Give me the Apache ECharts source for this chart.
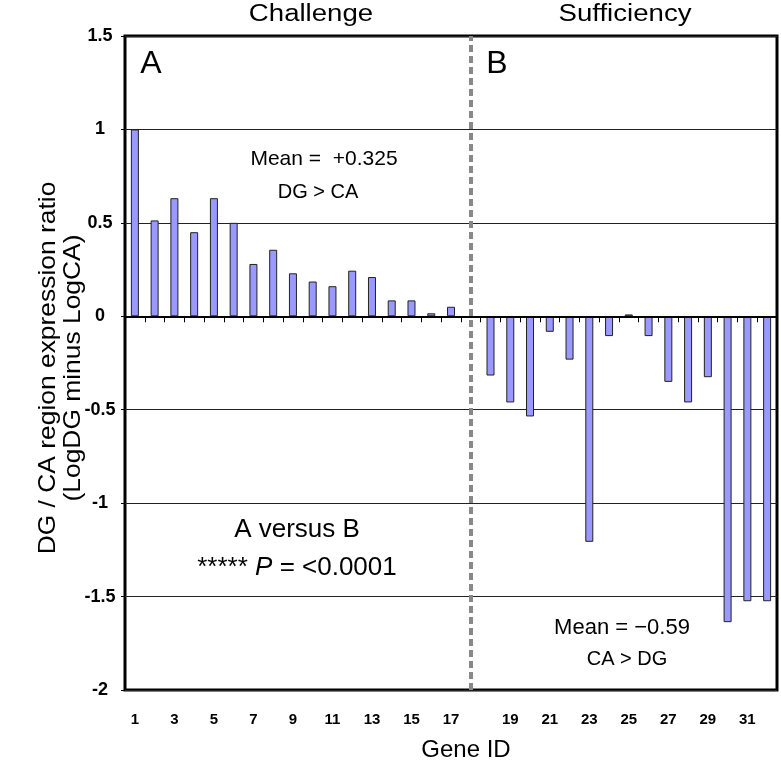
<!DOCTYPE html>
<html>
<head>
<meta charset="utf-8">
<script src="https://cdn.jsdelivr.net/npm/echarts@6/dist/echarts.min.js"></script>
<style>
html,body{margin:0;padding:0;background:#fff;}
#chart{width:781px;height:764px;}
</style>
</head>
<body>
<div id="chart"></div>
<script>
// Gene categories (slot 18 is an empty separator between panels A and B)
const challengeGenes = ['1','2','3','4','5','6','7','8','9','10','11','12','13','14','15','16','17'];
const sufficiencyGenes = ['18','19','20','21','22','23','24','25','26','27','28','29','30','31','32'];
const separator = [''];

// Values (LogDG minus LogCA)
const challengeValues = [1.0, 0.513, 0.632, 0.45, 0.632, 0.5, 0.28, 0.356, 0.23, 0.186, 0.161, 0.244, 0.21, 0.085, 0.085, 0.016, 0.051];
const sufficiencyValues = [-0.317, -0.461, -0.536, -0.083, -0.232, -1.207, -0.106, 0.01, -0.106, -0.351, -0.461, -0.326, -1.637, -1.525, -1.525];

// Y axis range / ticks
const yMin = -2, yMax = 1.5, yStep = 0.5;

const categories = challengeGenes.concat(separator, sufficiencyGenes);
const values = challengeValues.concat([null], sufficiencyValues);

const chart = echarts.init(document.getElementById('chart'), null, {renderer: 'canvas'});

const FONT = 'Liberation Sans, Arial, sans-serif';

function label(x, y, text, size, extra) {
  const el = {type: 'text', x: x, y: y, style: {text: text, font: size + 'px ' + FONT, fill: '#000', textAlign: 'center', textVerticalAlign: 'middle'}};
  return Object.assign(el, extra || {});
}

const option = {
  animation: false,
  backgroundColor: '#fff',
  grid: {
    left: 125, top: 36, width: 652, height: 654,
    show: true, borderColor: '#000', borderWidth: 3, backgroundColor: 'transparent', containLabel: false
  },
  xAxis: [
    {
      type: 'category', data: categories, boundaryGap: true,
      axisLine: {onZero: true, lineStyle: {color: '#000', width: 2}},
      axisTick: {show: true, interval: 0, length: 6, lineStyle: {color: '#000', width: 1}},
      axisLabel: {show: false},
      splitLine: {show: false}, z: 5
    },
    {
      type: 'category', data: categories, position: 'bottom', boundaryGap: true,
      axisLine: {show: false, onZero: false},
      axisTick: {show: false},
      axisLabel: {
        show: true, interval: 0, margin: 22,
        fontFamily: FONT, fontWeight: 'bold', fontSize: 15, color: '#000',
        formatter: function (v) { const n = parseInt(v, 10); return (!isNaN(n) && n % 2 === 1) ? v : ''; }
      },
      splitLine: {show: false}
    }
  ],
  yAxis: {
    type: 'value', min: yMin, max: yMax, interval: yStep,
    axisLine: {show: false},
    axisTick: {show: true, length: 4, lineStyle: {color: '#000'}},
    axisLabel: {
      margin: 25, align: 'center',
      fontFamily: FONT, fontWeight: 'bold', fontSize: 18, color: '#000',
      formatter: function (v) { return String(v); }
    },
    splitLine: {show: true, lineStyle: {color: '#222', width: 1}}
  },
  series: [{
    type: 'bar', xAxisIndex: 0, data: values, barWidth: 8,
    itemStyle: {color: '#9999FF', borderColor: '#222', borderWidth: 1},
    markLine: {
      silent: true, symbol: ['none', 'none'], label: {show: false},
      lineStyle: {color: '#888', width: 4, type: [7, 4]},
      data: [{xAxis: 17}]
    }
  }],
  graphic: [
    label(311, 15, 'Challenge', 23, {scaleX: 1.2}),
    label(625, 15, 'Sufficiency', 23, {scaleX: 1.2}),
    label(151, 64, 'A', 32),
    label(497, 64, 'B', 32),
    label(324, 159, 'Mean =  +0.325', 21),
    label(318, 192, 'DG > CA', 20),
    label(297, 530, 'A versus B', 26),
    {type: 'text', x: 297, y: 568, style: {
      text: '***** {i|P} = <0.0001', textAlign: 'center', textVerticalAlign: 'middle',
      font: '26px ' + FONT, fill: '#000',
      rich: {i: {fontSize: 26, fontFamily: FONT, fontStyle: 'italic', fill: '#000'}}
    }},
    label(622, 628, 'Mean = \u22120.59', 22),
    label(627, 659, 'CA > DG', 20),
    label(466, 750, 'Gene ID', 24),
    {type: 'text', x: 61, y: 368, rotation: Math.PI / 2, scaleX: 1.1, style: {
      text: 'DG / CA region expression ratio\n(LogDG minus LogCA)', font: '24px ' + FONT, fill: '#000',
      textAlign: 'center', textVerticalAlign: 'middle', lineHeight: 25
    }}
  ]
};
chart.setOption(option);
</script>
</body>
</html>
